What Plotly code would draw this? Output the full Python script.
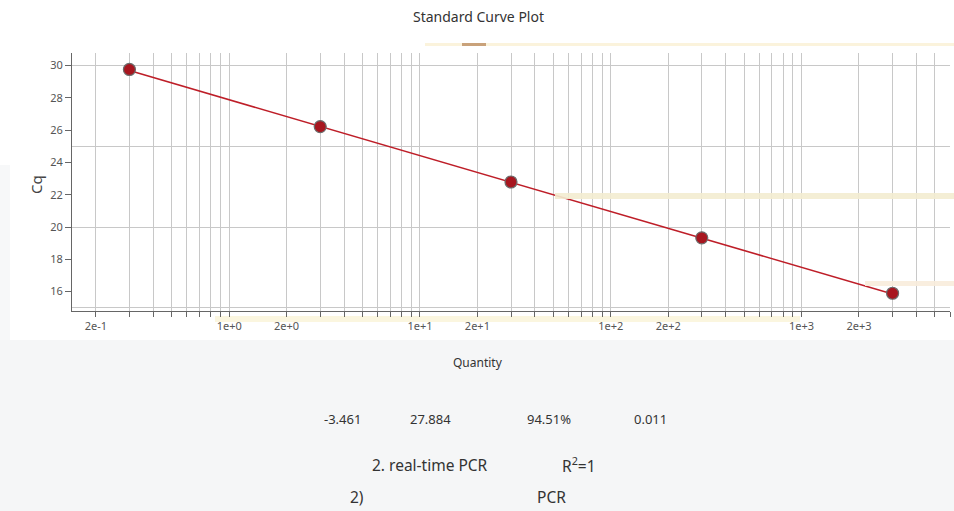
import numpy as np
import plotly.graph_objects as go

# ---- data ----
quantity = [0.3, 3, 30, 300, 3000]
cq = [29.76, 26.22, 22.79, 19.33, 15.90]
slope = -3.461
intercept = 27.884
efficiency = "94.51%"
error = "0.011"
y_ticks = [16, 18, 20, 22, 24, 26, 28, 30]
y_grid = [15, 20, 25, 30]
x_label_vals = [0.2, 1, 2, 10, 20, 100, 200, 1000, 2000]
x_label_text = ["2e-1", "1e+0", "2e+0", "1e+1", "2e+1", "1e+2", "2e+2", "1e+3", "2e+3"]

W, H = 954, 511
L, R, T, B = 72, 4, 53, 200
PW, PH = W - L - R, H - T - B

def px(x):
    return (x - L) / PW

def py(y):
    return (H - B - y) / PH

# grid ticks at every 1..9 multiple
x_all = []
for e in range(-1, 4):
    for m in range(1, 10):
        v = m * 10.0 ** e
        if 0.15 <= v <= 6000:
            x_all.append(v)
x_text = []
for v in x_all:
    lab = ""
    for lv, lt in zip(x_label_vals, x_label_text):
        if abs(v - lv) / lv < 1e-9:
            lab = lt
    x_text.append(lab)

fit_x = [quantity[0], quantity[-1]]
fit_y = [slope * np.log10(v) + intercept for v in fit_x]

fig = go.Figure()
fig.add_trace(go.Scatter(x=fit_x, y=fit_y, mode="lines",
                         line=dict(color="#be1e28", width=1.5),
                         hoverinfo="skip", showlegend=False))
fig.add_trace(go.Scatter(x=quantity, y=cq, mode="markers",
                         marker=dict(size=12, color="#a8161f",
                                     line=dict(color="#6b6b6b", width=1.2)),
                         showlegend=False))
fig.add_trace(go.Scatter(x=[0.3], y=[20], yaxis="y2", mode="markers",
                         marker=dict(opacity=0), hoverinfo="skip", showlegend=False))

font_family = "Noto Sans, Inter, sans-serif"

fig.update_layout(
    width=W, height=H,
    margin=dict(l=L, r=R, t=T, b=B),
    paper_bgcolor="white",
    plot_bgcolor="white",
    font=dict(family=font_family, color="#444"),
    xaxis=dict(type="log", range=[np.log10(0.15), np.log10(6000)],
               tickmode="array", tickvals=x_all, ticktext=x_text,
               ticks="outside", ticklen=5, tickcolor="#666", tickwidth=1,
               showgrid=True, gridcolor="#c8c8c8", gridwidth=1,
               showline=True, linecolor="#666", linewidth=1,
               tickfont=dict(size=11, color="#555"),
               zeroline=False),
    yaxis=dict(range=[14.8, 30.78], tickmode="array", tickvals=y_grid,
               showticklabels=False, ticks="",
               showgrid=True, gridcolor="#c8c8c8", gridwidth=1,
               showline=True, linecolor="#666", linewidth=1,
               zeroline=False),
    yaxis2=dict(range=[14.8, 30.78], overlaying="y", side="left", anchor="x",
                tickmode="array", tickvals=y_ticks,
                ticks="outside", ticklen=6, tickcolor="#666",
                showgrid=False, showline=False, zeroline=False,
                tickfont=dict(size=11, color="#555")),
)

# page background decoration
shapes = [
    dict(type="rect", xref="paper", yref="paper", x0=px(0), x1=px(W), y0=py(H), y1=py(340),
         fillcolor="#f5f6f7", line=dict(width=0), layer="below"),
    dict(type="rect", xref="paper", yref="paper", x0=px(0), x1=px(10), y0=py(340), y1=py(165),
         fillcolor="#f7f8f9", line=dict(width=0), layer="below"),
    dict(type="rect", xref="paper", yref="paper", x0=px(425), x1=px(W), y0=py(46), y1=py(43),
         fillcolor="#fbf3dc", line=dict(width=0), layer="above"),
    dict(type="rect", xref="paper", yref="paper", x0=px(462), x1=px(486), y0=py(46), y1=py(43),
         fillcolor="#c9a27a", line=dict(width=0), layer="above"),
    dict(type="rect", xref="paper", yref="paper", x0=px(555), x1=px(W), y0=py(199), y1=py(193),
         fillcolor="#f3ecd0", line=dict(width=0), layer="above", opacity=0.9),
    dict(type="rect", xref="paper", yref="paper", x0=px(865), x1=px(W), y0=py(286), y1=py(281),
         fillcolor="#f8ecdc", line=dict(width=0), layer="above", opacity=0.9),
    dict(type="rect", xref="paper", yref="paper", x0=px(215), x1=px(800), y0=py(322), y1=py(316),
         fillcolor="#fbf6df", line=dict(width=0), layer="below"),
]
fig.update_layout(shapes=shapes)

def ann(text, x, y, size, color="#333", angle=0):
    fig.add_annotation(text=text, xref="paper", yref="paper", x=px(x), y=py(y),
                       xanchor="center", yanchor="middle", showarrow=False,
                       textangle=angle, font=dict(size=size, color=color, family=font_family))

ann("Standard Curve Plot", 478, 17, 14, "#333")
ann("Cq", 36, 185, 15, "#444", -90)
ann("Quantity", 478, 362, 12, "#333")
ann(f"{slope:.3f}", 342, 419, 13, "#333")
ann(f"{intercept:.3f}", 430, 419, 13, "#333")
ann(efficiency, 549, 419, 13, "#333")
ann(error, 650, 419, 13, "#333")
ann("2. real-time PCR", 430, 465, 15.5, "#333")
ann("R<sup>2</sup>=1", 579, 465, 15.5, "#333")
ann("2)", 357, 497, 15.5, "#333")
ann("PCR", 551, 497, 15.5, "#333")

fig.write_html("out.html", config={"displayModeBar": False},
               post_script="document.body.style.margin='0';document.body.style.overflow='hidden';")
